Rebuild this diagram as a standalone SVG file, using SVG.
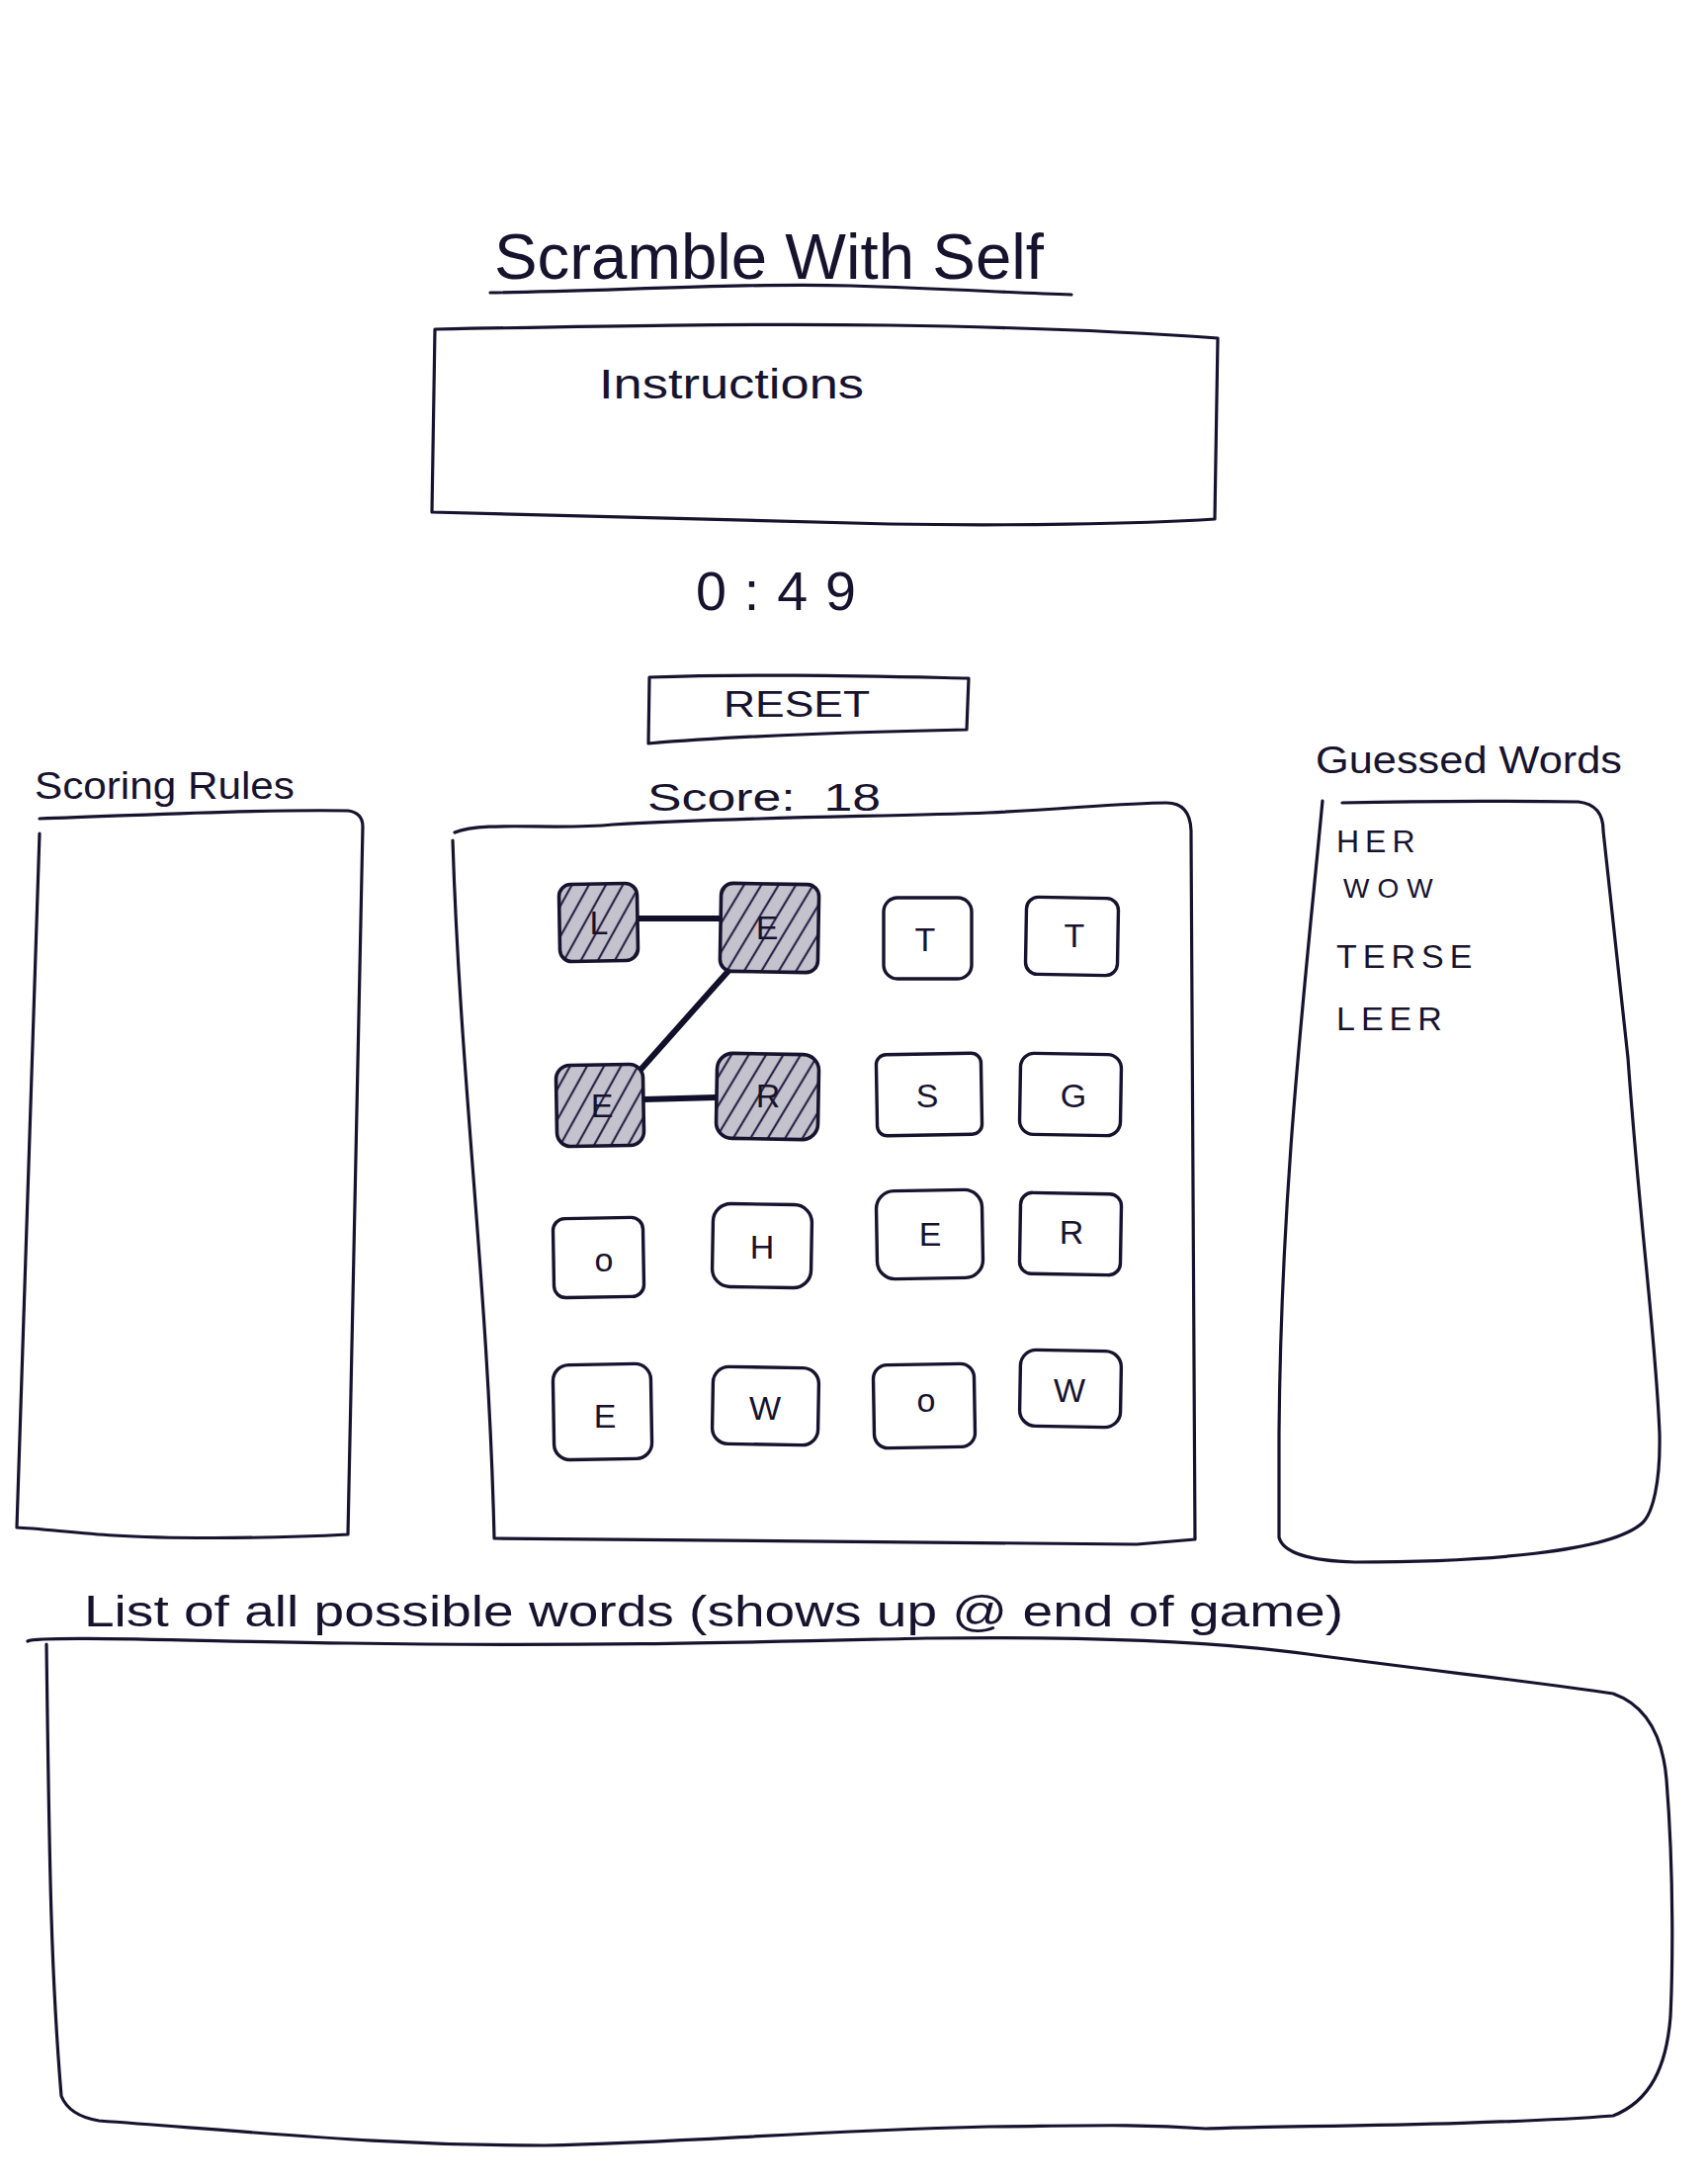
<svg xmlns="http://www.w3.org/2000/svg" width="1728" height="2208" viewBox="0 0 1728 2208">
<defs>
<pattern id="hatch" width="15" height="15" patternUnits="userSpaceOnUse" patternTransform="rotate(30)">
<rect width="15" height="15" fill="#c4c2cc"/>
<line x1="4" y1="0" x2="4" y2="15" stroke="#2a2548" stroke-width="2.2"/>
</pattern>
<style>
.ink{fill:none;stroke:#17132e;stroke-width:3.2;stroke-linecap:round;stroke-linejoin:round}
.tile{fill:#ffffff;stroke:#17132e;stroke-width:3.4}
.sel{fill:url(#hatch);stroke:#17132e;stroke-width:3.6}
.hand{font-family:"Liberation Sans","DejaVu Sans",sans-serif;fill:#17132e}
.lt{font-family:"Liberation Sans",sans-serif;fill:#17132e;font-size:34px;text-anchor:middle}
.conn{stroke:#120f2a;stroke-width:6;stroke-linecap:round}
</style>
</defs>
<rect width="1728" height="2208" fill="#ffffff"/>

<g id="title">
<text class="hand" x="500" y="282" font-size="64" textLength="556" lengthAdjust="spacingAndGlyphs">Scramble With Self</text>
<path class="ink" d="M496,296 C620,294 760,286 860,289 C960,292 1020,296 1084,298"/>
</g>

<g id="instructions">
<path class="ink" d="M440,333 C600,330 760,327 900,329 C1040,331 1150,336 1232,342 L1229,525 C1150,530 1020,532 900,530 C760,527 620,522 437,518 L440,333 Z"/>
<text class="hand" x="606" y="403" font-size="42" textLength="268" lengthAdjust="spacingAndGlyphs">Instructions</text>
</g>

<g id="timer">
<text class="hand" x="704" y="617" font-size="56" letter-spacing="18" textLength="180" lengthAdjust="spacingAndGlyphs">0:49</text>
</g>

<g id="reset">
<path class="ink" d="M657,685 C760,681 880,684 980,686 L978,738 C880,740 760,743 656,752 Z"/>
<text class="hand" x="732" y="725" font-size="36" textLength="148" lengthAdjust="spacingAndGlyphs">RESET</text>
</g>

<g id="score">
<text class="hand" x="655" y="820" font-size="38" textLength="236" lengthAdjust="spacingAndGlyphs" xml:space="preserve">Score:  18</text>
</g>

<g id="scoring-rules">
<text class="hand" x="35" y="808" font-size="38" textLength="263" lengthAdjust="spacingAndGlyphs">Scoring Rules</text>
<path class="ink" d="M40,828 C140,825 260,818 352,820 Q367,822 367,836 L352,1552 C260,1557 160,1556 115,1553 C80,1551 40,1546 17,1545 L40,843"/>
</g>

<g id="board">
<path class="ink" d="M460,842 C490,830 560,840 620,834 C760,826 900,826 1000,822 C1080,818 1140,812 1180,812 Q1204,812 1205,840 L1209,1557 L1150,1562 L500,1556 C494,1300 466,1100 458,850"/>
</g>

<g id="guessed-words">
<text class="hand" x="1331" y="782" font-size="38" textLength="310" lengthAdjust="spacingAndGlyphs">Guessed Words</text>
<path class="ink" d="M1358,812 C1440,810 1520,810 1597,811 Q1622,814 1622,840 C1630,920 1640,1000 1647,1070 C1660,1250 1675,1350 1679,1450 C1680,1500 1672,1530 1662,1540 C1630,1570 1500,1580 1371,1580 Q1300,1578 1294,1555 L1294,1450 C1296,1200 1320,1000 1338,810"/>
<text class="hand" x="1352" y="862" font-size="32" letter-spacing="6">HER</text>
<text class="hand" x="1359" y="908" font-size="28" letter-spacing="8">WOW</text>
<text class="hand" x="1352" y="979" font-size="34" letter-spacing="6">TERSE</text>
<text class="hand" x="1352" y="1042" font-size="34" letter-spacing="6">LEER</text>
</g>

<g id="connectors">
<line class="conn" x1="645" y1="929" x2="729" y2="929"/>
<line class="conn" x1="737" y1="982" x2="648" y2="1082"/>
<line class="conn" x1="651" y1="1112" x2="725" y2="1110"/>
</g>

<g id="tile-1"><rect class="sel" x="566" y="894" width="79" height="78" rx="12" transform="rotate(-1 605 933)"/><text class="lt" x="606" y="945">L</text></g>
<g id="tile-2"><rect class="sel" x="729" y="894" width="99" height="89" rx="12" transform="rotate(1 778 938)"/><text class="lt" x="776" y="950">E</text></g>
<g id="tile-3"><rect class="tile" x="894" y="908" width="89" height="82" rx="14"/><text class="lt" x="936" y="962">T</text></g>
<g id="tile-4"><rect class="tile" x="1038" y="908" width="93" height="78" rx="12" transform="rotate(1 1084 947)"/><text class="lt" x="1087" y="958">T</text></g>

<g id="tile-5"><rect class="sel" x="563" y="1077" width="88" height="82" rx="14" transform="rotate(-1 607 1118)"/><text class="lt" x="609" y="1130">E</text></g>
<g id="tile-6"><rect class="sel" x="725" y="1066" width="103" height="86" rx="16" transform="rotate(1 776 1109)"/><text class="lt" x="777" y="1120">R</text></g>
<g id="tile-7"><rect class="tile" x="887" y="1066" width="106" height="82" rx="10" transform="rotate(-1 940 1107)"/><text class="lt" x="938" y="1120" font-size="30">S</text></g>
<g id="tile-8"><rect class="tile" x="1032" y="1066" width="102" height="82" rx="14" transform="rotate(1 1083 1107)"/><text class="lt" x="1086" y="1120">G</text></g>

<g id="tile-9"><rect class="tile" x="560" y="1232" width="91" height="80" rx="12" transform="rotate(-1 605 1272)"/><text class="lt" x="611" y="1286" font-size="26">o</text></g>
<g id="tile-10"><rect class="tile" x="721" y="1218" width="100" height="84" rx="18" transform="rotate(1 771 1260)"/><text class="lt" x="771" y="1273">H</text></g>
<g id="tile-11"><rect class="tile" x="887" y="1204" width="107" height="89" rx="18" transform="rotate(-1 940 1248)"/><text class="lt" x="941" y="1260">E</text></g>
<g id="tile-12"><rect class="tile" x="1032" y="1207" width="102" height="82" rx="12" transform="rotate(1 1083 1248)"/><text class="lt" x="1084" y="1258">R</text></g>

<g id="tile-13"><rect class="tile" x="560" y="1380" width="99" height="96" rx="16" transform="rotate(-1 609 1428)"/><text class="lt" x="612" y="1444">E</text></g>
<g id="tile-14"><rect class="tile" x="721" y="1383" width="107" height="78" rx="16" transform="rotate(1 774 1422)"/><text class="lt" x="774" y="1436">W</text></g>
<g id="tile-15"><rect class="tile" x="884" y="1380" width="102" height="84" rx="14" transform="rotate(-1 935 1422)"/><text class="lt" x="937" y="1428" font-size="26">o</text></g>
<g id="tile-16"><rect class="tile" x="1032" y="1366" width="102" height="77" rx="16" transform="rotate(1 1083 1404)"/><text class="lt" x="1082" y="1418">W</text></g>

<g id="possible-words">
<text class="hand" x="85" y="1645" font-size="44" textLength="1274" lengthAdjust="spacingAndGlyphs">List of all possible words (shows up @ end of game)</text>
<path class="ink" d="M28,1660 C40,1654 200,1660 353,1662 C600,1666 800,1660 937,1657 C1100,1655 1230,1660 1323,1673 C1450,1690 1560,1702 1632,1713 Q1680,1730 1686,1800 C1694,1900 1692,2000 1690,2040 C1686,2090 1670,2125 1632,2140 C1500,2150 1300,2150 1220,2153 C1150,2148 1102,2150 1000,2151 C800,2156 700,2167 551,2170 C400,2170 300,2160 100,2145 Q70,2140 62,2120 C52,2000 50,1900 47,1663"/>
</g>
</svg>
